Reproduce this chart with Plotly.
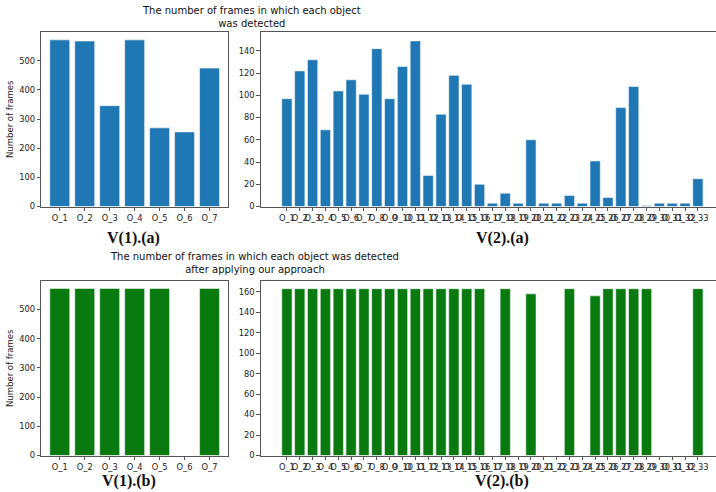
import plotly.graph_objects as go

cats7 = ["O_1", "O_2", "O_3", "O_4", "O_5", "O_6", "O_7"]
cats33 = [f"O_{i}" for i in range(1, 34)]

v1_before = [572, 568, 346, 572, 270, 256, 475]
v2_before = [97, 122, 132, 69, 104, 114, 101, 142, 97, 126, 149, 28, 83, 118, 110, 20,
             3, 12, 3, 60, 3, 3, 10, 3, 41, 8, 89, 108, 1, 3, 3, 3, 25]
v1_after = [572, 572, 572, 572, 572, 0, 572]
v2_after = [163] * 16 + [0, 163, 0, 158, 0, 0, 163, 0, 156, 163, 163, 163, 163, 0, 0, 0, 163]

BLUE = "#1f77b4"
GREEN = "#087a0f"
W, H = 716, 492

def px(x):
    return x / W

def py(y):
    return 1 - y / H

fig = go.Figure()
edge = dict(color="rgba(255,255,255,0.55)", width=1)
fig.add_trace(go.Bar(x=cats7, y=v1_before, marker=dict(color=BLUE, line=edge), xaxis="x", yaxis="y"))
fig.add_trace(go.Bar(x=cats33, y=v2_before, marker=dict(color=BLUE, line=edge), xaxis="x2", yaxis="y2"))
fig.add_trace(go.Bar(x=cats7, y=v1_after, marker=dict(color=GREEN, line=edge), xaxis="x3", yaxis="y3"))
fig.add_trace(go.Bar(x=cats33, y=v2_after, marker=dict(color=GREEN, line=edge), xaxis="x4", yaxis="y4"))

tickfont = dict(family="DejaVu Sans", size=8.3, color="#222")
line = dict(showline=True, linecolor="#555", linewidth=1, ticks="outside", ticklen=3.5,
            tickcolor="#555", showgrid=False, zeroline=False, tickfont=tickfont, automargin=False)

def xax(domain, rng, anchor, cats, mirror=True):
    return dict(domain=domain, range=rng, anchor=anchor, type="category", mirror=mirror,
                tickmode="array", tickvals=cats, ticktext=cats, tickangle=0, **line)

def yax(domain, rng, anchor, dtick, mirror=True):
    return dict(domain=domain, range=rng, anchor=anchor, dtick=dtick, tick0=0, mirror=mirror, **line)

Lx = [px(41.3), px(228)]
Rx = [px(260.7), 1.0]
Ty = [py(206.5), py(32)]
By = [py(455.5), py(280.5)]

fig.update_layout(
    width=W, height=H, margin=dict(l=0, r=0, t=0, b=0, autoexpand=False),
    paper_bgcolor="white", plot_bgcolor="white", showlegend=False, bargap=0.2,
    xaxis=xax(Lx, [-0.74, 6.74], "y", cats7),
    yaxis=yax(Ty, [0, 599], "x", 100),
    xaxis2=xax(Rx, [-2.04, 33.41], "y2", cats33),
    yaxis2=yax(Ty, [0, 157], "x2", 20, mirror=False),
    xaxis3=xax(Lx, [-0.74, 6.74], "y3", cats7),
    yaxis3=yax(By, [0, 599], "x3", 100),
    xaxis4=xax(Rx, [-2.04, 33.41], "y4", cats33),
    yaxis4=yax(By, [0, 171], "x4", 20, mirror=False),
    font=dict(family="DejaVu Sans", color="#222"),
)

ann = []
P = dict(xref="paper", yref="paper", showarrow=False)
tfont = dict(family="DejaVu Sans", size=10, color="#111")
ann.append(dict(text="The number of frames in which each object<br>was detected", x=px(251), y=py(3),
                xanchor="center", yanchor="top", font=tfont, align="center", **P))
ann.append(dict(text="The number of frames in which each object was detected<br>after applying our approach",
                x=px(254), y=py(249), xanchor="center", yanchor="top", font=tfont, align="center", **P))
vfont = dict(family="Liberation Serif", size=16, color="#111")
for txt, x, y in [("<b>V(1).(a)</b>", 133, 238), ("<b>V(2).(a)</b>", 502, 238),
                  ("<b>V(1).(b)</b>", 129, 481), ("<b>V(2).(b)</b>", 502, 481)]:
    ann.append(dict(text=txt, x=px(x), y=py(y), xanchor="center", yanchor="middle", font=vfont, **P))
yfont = dict(family="DejaVu Sans", size=8.5, color="#222")
for y in [119, 368]:
    ann.append(dict(text="Number of frames", x=px(10), y=py(y), xanchor="center", yanchor="middle",
                    textangle=-90, font=yfont, **P))
fig.update_layout(annotations=ann)

fig.write_html("out.html", config={"displayModeBar": False},
               post_script="document.body.style.margin='0';document.body.style.overflow='hidden';")
